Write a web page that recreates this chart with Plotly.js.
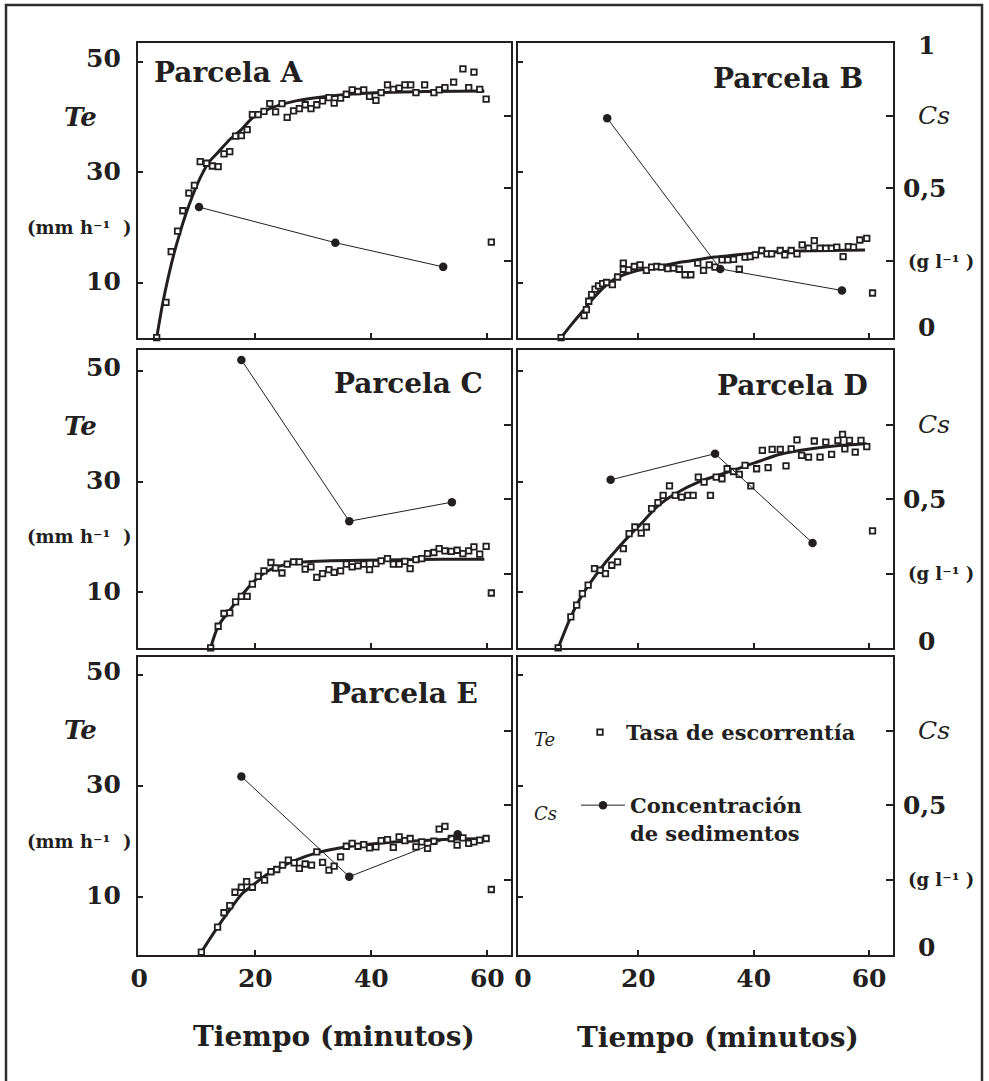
<!DOCTYPE html>
<html>
<head>
<meta charset="utf-8">
<script src="https://cdn.plot.ly/plotly-3.0.1.min.js"></script>
<style>html,body{margin:0;padding:0;background:#fff;}#chart{width:989px;height:1081px;}</style>
</head>
<body>
<div id="chart"></div>
<script>
// ---------- data ----------
// Parcela A
const teX_A = [3.0,4.6,5.5,6.6,7.5,8.55,9.5,10.5,11.6,12.6,13.6,14.6,15.6,16.6,17.6,18.6,19.5,20.5,21.5,22.5,23.5,24.6,25.5,26.6,27.6,28.6,29.6,30.6,31.6,32.7,33.6,34.7,35.7,36.7,37.7,38.7,39.7,40.8,41.7,42.8,43.8,44.8,45.8,46.8,47.7,49.2,50.8,51.7,52.7,54.2,55.8,56.8,57.7,58.7,59.8,60.7];
const teY_A = [0,6.4,15.6,19.3,23.0,26.2,27.6,31.9,31.6,31.1,31.0,33.3,33.7,36.5,36.6,37.7,40.4,40.4,41.0,42.4,40.9,42.4,39.9,41.1,41.5,42.2,41.5,42.2,42.9,43.5,42.5,43.4,44.1,44.9,44.6,44.9,43.7,43.0,44.4,45.8,45.0,45.2,45.8,45.8,44.4,45.8,44.4,44.9,45.3,46.3,48.7,45.3,48.1,45.0,43.2,17.3];
const fitX_A = [3.0,4,5,6,7,8,9,10,11,12,13.6,15.6,17.6,19.5,22.5,27,33,41.6,50,59.5];
const fitY_A = [0,6,11,15.3,19,22.3,25.2,27.8,30,31.8,33.6,35.9,37.7,39.8,41.5,42.9,43.8,44.4,44.6,44.7];
const csX_A = [10.3,33.8,52.4];
const csY_A = [0.436,0.314,0.231];
// Parcela B
const teX_B = [6.6,10.6,11.0,11.4,11.9,12.5,13.1,13.8,14.5,15.5,16.4,17.4,17.4,18.3,19.3,20.3,21.4,22.3,23.2,24.0,25.1,26.1,27.1,28.1,29.1,30.3,31.3,32.3,33.3,34.5,35.5,36.5,37.5,38.5,39.4,40.3,41.4,42.3,43.1,44.6,45.4,46.5,47.5,48.4,49.5,50.5,51.5,52.5,53.5,54.4,55.5,56.4,57.3,58.4,59.6,60.6];
const teY_B = [0,4.0,5.1,6.6,7.8,8.8,9.4,9.8,10.0,9.6,11.0,12.4,13.5,12.3,12.9,13.2,12.2,12.8,12.9,12.8,12.5,12.6,12.4,11.4,11.4,13.5,12.2,13.2,12.8,14.1,14.1,14.2,12.4,14.6,14.7,15.0,15.8,15.2,15.2,15.8,15.0,15.8,15.2,16.8,16.2,17.6,16.2,16.2,16.2,16.4,14.7,16.5,16.4,17.7,18.0,8.1];
const fitX_B = [6.6,8.5,10.5,12,14.2,16,17.7,20,22,25,27.5,30,33.3,36,39.1,43,47.7,53,59.3];
const fitY_B = [0,2.5,5.0,6.9,9.3,10.7,11.5,12.2,12.6,13.2,13.7,14.1,14.6,14.9,15.2,15.5,15.7,15.8,15.9];
const csX_B = [14.6,34.2,55.3];
const csY_B = [0.741,0.224,0.150];
// Parcela C
const teX_C = [12.3,13.6,14.6,15.6,16.6,17.6,18.6,19.5,20.5,21.5,22.7,23.5,24.6,25.5,26.6,27.6,28.6,29.6,30.6,31.6,32.7,33.6,34.7,35.7,36.7,37.7,38.7,39.7,40.8,41.7,42.8,43.8,44.8,45.8,46.7,47.7,48.7,49.7,50.8,51.7,52.7,53.8,54.8,55.8,56.8,57.7,58.7,59.8,60.7];
const teY_C = [0,3.9,6.2,6.3,8.3,9.3,9.3,11.5,12.9,13.9,15.4,14.4,13.5,15.1,15.5,15.5,14.2,14.6,12.7,13.4,14.1,13.6,13.9,15.1,14.6,14.8,15.1,14.1,15.2,15.7,16.1,15.1,15.1,15.6,14.3,15.9,16.1,17.0,17.2,17.9,17.5,17.4,17.6,17.0,17.5,18.2,16.9,18.3,9.9];
const fitX_C = [12.3,13.6,15.6,17.9,20.5,23.7,28.3,33,38.7,45,52,59.5];
const fitY_C = [0,3.9,6.8,9.8,12.7,14.6,15.5,15.7,15.8,15.9,16.0,16.0];
const csX_C = [17.6,36.2,53.9];
const csY_C = [0.968,0.426,0.490];
// Parcela D
const teX_D = [6.1,8.3,9.3,10.3,11.3,12.4,13.4,14.3,15.4,16.4,17.4,18.4,19.4,20.5,21.4,22.3,23.4,24.3,25.4,26.4,27.5,28.6,29.5,30.4,31.4,32.5,33.5,34.5,35.4,36.5,37.5,38.5,39.5,40.5,41.5,42.5,43.2,44.6,45.6,46.5,47.5,48.3,49.5,50.5,51.5,52.5,53.5,54.6,55.4,55.8,56.6,57.6,58.6,59.6,60.6];
const teY_D = [0,5.6,7.7,9.8,11.3,14.3,14.0,13.4,14.9,15.5,17.9,20.6,21.8,20.7,21.8,25.1,26.2,27.5,29.2,27.5,27.2,27.5,27.5,30.8,29.9,27.5,30.8,30.5,32.3,31.8,31.3,32.9,29.2,32.3,35.6,32.5,35.8,35.8,32.8,35.9,37.5,34.7,34.4,37.3,34.4,37.1,34.9,37.4,38.5,35.9,37.4,35.3,37.4,36.3,21.1];
const fitX_D = [6.1,8.3,10.3,12.4,14.3,16.4,18.4,20.5,23.4,26.4,30.4,33.5,36.5,40,44.6,50,54,59.6];
const fitY_D = [0,5.6,9.6,12.8,15.4,17.9,20.2,22.4,25.6,27.8,29.9,31.0,32.0,33.3,34.9,35.9,36.4,36.8];
const csX_D = [15.2,33.3,50.2];
const csY_D = [0.565,0.653,0.353];
// Parcela E
const teX_E = [10.7,13.5,14.6,15.6,16.5,17.6,18.5,19.5,20.5,21.6,22.7,23.7,24.7,25.7,26.7,27.6,28.6,29.7,30.6,31.6,32.7,33.6,34.7,35.7,36.7,37.7,38.7,39.7,40.8,41.7,42.8,43.8,44.8,45.8,46.7,47.7,48.7,49.7,50.8,51.7,52.7,53.8,54.8,55.8,56.8,57.7,58.7,59.8,60.7];
const teY_E = [0,4.5,7.1,8.4,10.8,11.7,12.7,11.7,13.9,13.0,14.5,14.9,15.7,16.6,16.1,15.1,15.9,15.7,18.1,16.2,14.8,15.5,17.2,19.1,19.6,19.1,19.4,18.8,19.0,20.1,20.3,18.9,20.8,20.1,20.5,19.0,19.9,18.7,20.0,22.2,22.7,20.5,19.3,20.6,19.6,19.9,20.2,20.5,11.3];
const fitX_E = [10.7,13.5,15.6,17.6,19.5,22,24.3,27,30.6,35.8,40,44.5,50,55,59.6];
const fitY_E = [0,4.5,7.6,10.4,12.0,14.0,15.3,16.6,17.9,19.0,19.5,19.9,20.2,20.4,20.5];
const csX_E = [17.6,36.2,54.9];
const csY_E = [0.597,0.261,0.403];

// tick values / labels
const xTickVals = [20,40,60];
const xLabelVals = [0,20,40,60];
const teTickVals = [10,30,50];
const csTickVals = [0.25,0.5,0.75];
const panelNames = ['Parcela A','Parcela B','Parcela C','Parcela D','Parcela E'];
const teLabel = 'Tasa de escorrentía';
const csLabel = 'Concentración<br>de sedimentos';
const xTitle = 'Tiempo (minutos)';
const teUnit = '(mm h\u207B\u00B9\u00a0\u00a0)';
const csUnit = '(g l\u207B\u00B9\u00a0)';

// ---------- layout helpers ----------
const W = 989, H = 1081;
const INK = '#231f20';
const F = 'DejaVu Serif';
const px = v => v / W;
const py = v => 1 - v / H;

const colDom = [[px(137.5), px(511)], [px(518.3), px(893.3)]];
const rowDom = [[py(337.7), py(43.3)], [py(648), py(349.5)], [py(955), py(657)]];
const colRange = [[-0.31, 64.09], [-0.81, 64.2]];
const teRange = [[0, 53.33], [-0.02, 53.8], [-0.52, 53.24]];
const csRange = [[-0.012, 0.998], [0, 1.003], [-0.002, 0.998]];

const panels = [
  {te:[teX_A,teY_A], fit:[fitX_A,fitY_A], cs:[csX_A,csY_A]},
  {te:[teX_B,teY_B], fit:[fitX_B,fitY_B], cs:[csX_B,csY_B]},
  {te:[teX_C,teY_C], fit:[fitX_C,fitY_C], cs:[csX_C,csY_C]},
  {te:[teX_D,teY_D], fit:[fitX_D,fitY_D], cs:[csX_D,csY_D]},
  {te:[teX_E,teY_E], fit:[fitX_E,fitY_E], cs:[csX_E,csY_E]},
  null
];

const layout = {
  width: W, height: H,
  margin: {l:0, r:0, t:0, b:0},
  paper_bgcolor: '#fff', plot_bgcolor: 'rgba(0,0,0,0)',
  font: {family: F, color: INK},
  showlegend: true,
  annotations: [],
  shapes: [{type:'rect', xref:'paper', yref:'paper', x0:px(6), x1:px(982), y0:py(1100), y1:py(5),
            line:{color:'#2e2e2e', width:2.5}, fillcolor:'rgba(0,0,0,0)', layer:'below'}]
};

const traces = [];
const sfx = i => (i === 0 ? '' : String(i + 1));

for (let i = 0; i < 6; i++) {
  const row = Math.floor(i / 2), col = i % 2;
  const xk = 'xaxis' + sfx(i), yk = 'yaxis' + sfx(i), rk = 'yaxis' + (i + 7);
  const xn = 'x' + sfx(i), yn = 'y' + sfx(i), rn = 'y' + (i + 7);
  const common = {showline:true, mirror:true, linecolor:INK, linewidth:2, ticks:'inside', tickwidth:2,
                  tickcolor:INK, showticklabels:false, showgrid:false, zeroline:false, fixedrange:true};
  layout[xk] = Object.assign({}, common, {domain:colDom[col], range:colRange[col], anchor:yn,
                  tickmode:'array', tickvals:xTickVals, ticklen:5});
  layout[yk] = Object.assign({}, common, {domain:rowDom[row], range:teRange[row], anchor:xn,
                  tickmode:'array', tickvals:teTickVals, ticklen:5});
  layout[rk] = {overlaying:yn, side:'right', anchor:xn, range:csRange[row], showline:false,
                ticks:'inside', tickmode:'array', tickvals:csTickVals, ticklen:7, tickwidth:2, tickcolor:INK,
                showticklabels:false, showgrid:false, zeroline:false, fixedrange:true};

  const p = panels[i];
  if (p) {
    traces.push({type:'scatter', mode:'lines', x:p.fit[0], y:p.fit[1], xaxis:xn, yaxis:yn,
                 line:{color:INK, width:3, shape:'spline', smoothing:0.8}, showlegend:false, hoverinfo:'skip'});
    traces.push({type:'scatter', mode:'markers', x:p.te[0], y:p.te[1], xaxis:xn, yaxis:yn,
                 name:teLabel, legend:'legend', showlegend:i === 0, cliponaxis:false,
                 marker:{symbol:'square', size:5.5, color:'#fff', line:{color:INK, width:1.8}}});
    traces.push({type:'scatter', mode:'lines+markers', x:p.cs[0], y:p.cs[1], xaxis:xn, yaxis:rn,
                 name:csLabel, legend:'legend2', showlegend:i === 0, cliponaxis:false,
                 line:{color:INK, width:1}, marker:{symbol:'circle', size:8.5, color:INK}});
    layout.annotations.push(Object.assign({
      text:panelNames[i], showarrow:false, xref:'paper', yref:'paper',
      font:{family:F, size:28, weight:'bold', color:INK}, yanchor:'middle'},
      [{x:px(152), xanchor:'left', y:py(73)},
       {x:px(865), xanchor:'right', y:py(78)},
       {x:px(485), xanchor:'right', y:py(383)},
       {x:px(870), xanchor:'right', y:py(385)},
       {x:px(480), xanchor:'right', y:py(693)}][i]));
  }
}

// bottom-row label axes (numbers under the panels)
[[4, 'xaxis7'], [5, 'xaxis8']].forEach(([i, k]) => {
  const col = i % 2;
  layout[k] = {overlaying:'x' + sfx(i), anchor:'y' + sfx(i), side:'bottom', range:colRange[col],
               tickmode:'array', tickvals:xLabelVals, ticks:'', showline:false, showgrid:false, zeroline:false,
               ticklabelstandoff:6, tickfont:{family:F, size:25, weight:'bold', color:INK}, fixedrange:true};
});
// empty traces that activate the label axes
traces.push({type:'scatter', mode:'markers', x:[], y:[], xaxis:'x7', yaxis:'y5', showlegend:false, hoverinfo:'skip'});
traces.push({type:'scatter', mode:'markers', x:[], y:[], xaxis:'x8', yaxis:'y6', showlegend:false, hoverinfo:'skip'});

// y-side labels
const numFont = {family:F, size:25, weight:'bold', color:INK};
['y', 'y3', 'y5'].forEach(yr => {
  const a = (text, x, y, anchor, font, ys) => layout.annotations.push({text, x:px(x), y, xref:'paper', yref:yr,
             xanchor:anchor, yanchor:'middle', showarrow:false, font, yshift:ys || 0});
  a('50', 123, 50, 'right', numFont, 3);
  a('30', 123, 30, 'right', numFont, 1);
  a('10', 123, 10, 'right', numFont, 1);
  a('Te', 99, 40, 'right', {family:F, size:26, style:'italic', weight:'bold', color:INK}, 0);
  a(teUnit, 133, 20, 'right', {family:F, size:18, weight:'bold', color:INK}, 0);
});
// "1" at the top of the first row's right scale
layout.annotations.push({text:'1', x:px(916), y:py(46), xref:'paper', yref:'paper', xanchor:'left', yanchor:'middle',
  showarrow:false, font:numFont});
['y8', 'y10', 'y12'].forEach((yr, r) => {
  const a = (text, x, y, font, ys) => layout.annotations.push({text, x:px(x), y, xref:'paper', yref:yr,
             xanchor:'left', yanchor:'middle', showarrow:false, font, yshift:ys || 0});
  a('Cs', 916, 0.75, {family:F, size:25, style:'italic', color:INK}, 0);
  a('0,5', 901, 0.5, numFont, 0);
  a(csUnit, 906, 0.25, {family:F, size:18, weight:'bold', color:INK}, 0);
  a('0', 916, 0, numFont, 7);
});

// legend labels in the empty panel
layout.annotations.push({text:'Te', x:px(532), y:py(739), xref:'paper', yref:'paper', xanchor:'left', yanchor:'middle',
  showarrow:false, font:{family:F, size:18, style:'italic', color:INK}});
layout.annotations.push({text:'Cs', x:px(532), y:py(813), xref:'paper', yref:'paper', xanchor:'left', yanchor:'middle',
  showarrow:false, font:{family:F, size:18, style:'italic', color:INK}});

// x titles
layout.annotations.push({text:xTitle, x:px(333.5), y:py(1036), xref:'paper', yref:'paper', xanchor:'center', yanchor:'middle',
  showarrow:false, font:{family:F, size:28, weight:'bold', color:INK}});
layout.annotations.push({text:xTitle, x:px(717.5), y:py(1037), xref:'paper', yref:'paper', xanchor:'center', yanchor:'middle',
  showarrow:false, font:{family:F, size:28, weight:'bold', color:INK}});

const legFont = {family:F, size:21, weight:'bold', color:INK};
layout.legend = {x:px(574), y:py(712), xanchor:'left', yanchor:'top', bgcolor:'rgba(0,0,0,0)', borderwidth:0,
                 font:legFont, itemwidth:42, itemclick:false, itemdoubleclick:false};
layout.legend2 = {x:px(576), y:py(785), xanchor:'left', yanchor:'top', bgcolor:'rgba(0,0,0,0)', borderwidth:0,
                  font:legFont, itemwidth:44, valign:'top', itemclick:false, itemdoubleclick:false};

Plotly.newPlot('chart', traces, layout, {displayModeBar:false, staticPlot:true});
</script>
</body>
</html>
